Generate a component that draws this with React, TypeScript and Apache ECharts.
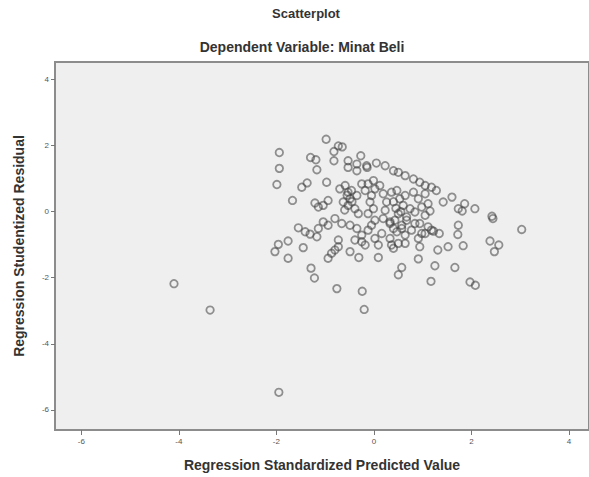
import React, { useEffect, useRef } from "react";
import * as echarts from "echarts";

const chartTitle = "Scatterplot";
const chartSubtitle = "Dependent Variable: Minat Beli";
const xAxisTitle = "Regression Standardized Predicted Value";
const yAxisTitle = "Regression Studentized Residual";

const xTicks = [-6, -4, -2, 0, 2, 4];
const yTicks = [-6, -4, -2, 0, 2, 4];

// [standardized predicted value, studentized residual]
const corePoints = [
  [-0.53, 1.54], [-0.35, 1.44], [-0.15, 1.39], [0.05, 1.47], [0.23, 1.39], [0.4, 1.24],
  [0.5, 1.19], [0.64, 1.09], [0.81, 0.99], [0.94, 0.89], [1.05, 0.79], [1.18, 0.74],
  [-0.97, 0.89], [-0.94, 0.34], [-0.7, 0.69], [-0.59, 0.79], [-0.53, 0.59], [-0.46, 0.64],
  [-0.35, 0.49], [-0.49, 0.39], [-0.63, 0.29], [-0.53, 0.19], [-0.39, 0.09], [-0.32, -0.06],
  [-0.18, 0.64], [-0.12, 0.84], [-0.01, 0.94], [0.02, 0.69], [-0.05, 0.49], [-0.08, 0.29],
  [-0.01, 0.09], [-0.12, -0.06], [0.02, -0.26], [-0.05, -0.41],
  [0.12, 0.79], [0.19, 0.54], [0.26, 0.29], [0.23, 0.04], [0.19, -0.21], [0.33, -0.36],
  [0.36, 0.59], [0.47, 0.64], [0.53, 0.39], [0.6, 0.19], [0.5, -0.06], [0.43, -0.26],
  [0.57, -0.41], [0.67, -0.16], [0.74, 0.09], [0.64, 0.49], [0.81, 0.59], [0.91, 0.39],
  [0.84, -0.01], [0.98, 0.14], [1.05, -0.11], [0.94, -0.36], [1.11, -0.46],
  [-0.8, -0.21], [-0.66, -0.36], [-0.49, -0.41], [-0.35, -0.51], [-0.25, -0.71], [-0.12, -0.56],
  [0.02, -0.81], [0.16, -0.66], [0.33, -0.81], [0.47, -0.61], [0.64, -0.71], [0.77, -0.56],
  [0.91, -0.81], [1.05, -0.66], [1.18, -0.56],
  [-0.94, -0.41], [-0.73, -0.86], [-0.39, -0.86], [-0.18, -1.01], [0.09, -1.01], [0.36, -1.01],
  [0.64, -0.96], [0.94, -1.06],
  [-0.55, 0.5], [-0.45, 0.3], [0.45, 0.1], [0.55, 0.0], [0.4, 0.3], [-0.6, 0.05], [-0.25, 0.84],
];

const upperLeftPoints = [
  [-0.98, 2.19], [-0.73, 1.99], [-0.65, 1.96], [-0.82, 1.82], [-1.94, 1.79], [-1.3, 1.64],
  [-1.19, 1.57], [-0.82, 1.54], [-0.27, 1.69], [-1.94, 1.31], [-1.17, 1.27], [-1.99, 0.82],
  [-1.48, 0.74], [-1.37, 0.87], [-1.67, 0.34], [-1.21, 0.26], [-1.14, 0.14], [-0.14, 1.34],
  [-0.35, 1.24], [-0.53, 1.34], [-1.04, 0.19],
];

const lowerLeftPoints = [
  [-1.55, -0.49], [-1.41, -0.61], [-1.31, -0.68], [-1.17, -0.76], [-1.14, -0.51], [-1.04, -0.31],
  [-1.96, -0.99], [-2.03, -1.21], [-1.76, -0.89], [-1.76, -1.41], [-1.45, -1.09], [-0.73, -1.06],
  [-0.8, -1.16], [-0.87, -1.26], [-0.94, -1.41], [-0.49, -1.21], [-0.25, -0.91], [-0.31, -1.39],
  [0.09, -1.39], [-1.29, -1.71], [-1.22, -2.01], [-0.76, -2.33], [-0.24, -2.41], [-0.2, -2.96],
];

const outlierPoints = [[-4.1, -2.18], [-3.36, -2.98], [-1.95, -5.47]];

const rightPoints = [
  [1.22, -0.59], [1.34, -0.66], [1.73, -0.41], [1.72, -0.69], [1.31, -1.16], [1.52, -1.06],
  [1.83, -1.03], [0.91, -1.43], [1.25, -1.64], [1.66, -1.69], [0.57, -1.69], [0.5, -1.91],
  [1.17, -2.11], [1.97, -2.13], [2.08, -2.23], [2.38, -0.89], [2.56, -1.01], [2.47, -1.21],
  [2.44, -0.21], [3.03, -0.54], [0.33, -0.31], [0.4, -0.51], [0.4, -1.11], [0.5, -0.96],
  [0.57, -0.51], [0.67, -0.26], [0.84, -0.36], [0.98, -0.66],
  [1.42, 0.29], [1.6, 0.44], [1.73, 0.09], [1.81, 0.02], [1.86, 0.24], [2.07, 0.09],
  [2.42, -0.14], [1.28, 0.64], [1.05, 0.54], [1.11, 0.24], [1.15, 0.02],
];

const allPoints = [
  ...corePoints,
  ...upperLeftPoints,
  ...lowerLeftPoints,
  ...outlierPoints,
  ...rightPoints,
];

const FONT = "'Liberation Sans', Arial, sans-serif";

export default function App() {
  const ref = useRef<HTMLDivElement>(null);

  useEffect(() => {
    if (!ref.current) return;
    const chart = echarts.init(ref.current, null, { renderer: "svg" });
    chart.setOption({
      animation: false,
      backgroundColor: "#ffffff",
      graphic: [
        {
          type: "text",
          x: 306,
          y: 13,
          style: {
            text: chartTitle,
            fill: "#333",
            font: `bold 13px ${FONT}`,
            textAlign: "center",
            textVerticalAlign: "middle",
          },
        },
        {
          type: "text",
          x: 302,
          y: 47,
          style: {
            text: chartSubtitle,
            fill: "#333",
            font: `bold 14px ${FONT}`,
            textAlign: "center",
            textVerticalAlign: "middle",
          },
        },
      ],
      grid: {
        left: 55,
        top: 62,
        right: 0,
        bottom: 44,
        show: true,
        backgroundColor: "#efefef",
        borderColor: "#8c8c8c",
        borderWidth: 2,
      },
      xAxis: {
        type: "value",
        min: -6.54,
        max: 4.41,
        name: xAxisTitle,
        nameLocation: "middle",
        nameGap: 28,
        nameTextStyle: { fontFamily: FONT, fontWeight: "bold", fontSize: 14, color: "#333" },
        axisLine: { show: false, onZero: false },
        splitLine: { show: false },
        axisTick: {
          show: true,
          length: 5,
          lineStyle: { color: "#777" },
          customValues: xTicks,
        },
        axisLabel: {
          fontSize: 8,
          color: "#555",
          fontFamily: FONT,
          margin: 7,
          customValues: xTicks,
        },
      },
      yAxis: {
        type: "value",
        min: -6.61,
        max: 4.53,
        name: yAxisTitle,
        nameLocation: "middle",
        nameGap: 29,
        nameTextStyle: { fontFamily: FONT, fontWeight: "bold", fontSize: 14, color: "#333" },
        axisLine: { show: false, onZero: false },
        splitLine: { show: false },
        axisTick: {
          show: true,
          length: 4,
          lineStyle: { color: "#777" },
          customValues: yTicks,
        },
        axisLabel: {
          fontSize: 8,
          color: "#555",
          fontFamily: FONT,
          margin: 6,
          customValues: yTicks,
        },
      },
      series: [
        {
          type: "scatter",
          data: allPoints,
          symbol: "circle",
          symbolSize: 7.5,
          itemStyle: {
            color: "rgba(0,0,0,0)",
            borderColor: "rgba(60,60,60,0.68)",
            borderWidth: 1.8,
          },
        },
      ],
    });
    return () => chart.dispose();
  }, []);

  return (
    <div
      ref={ref}
      style={{ position: "fixed", left: 0, top: 0, width: 589, height: 477 }}
    />
  );
}
